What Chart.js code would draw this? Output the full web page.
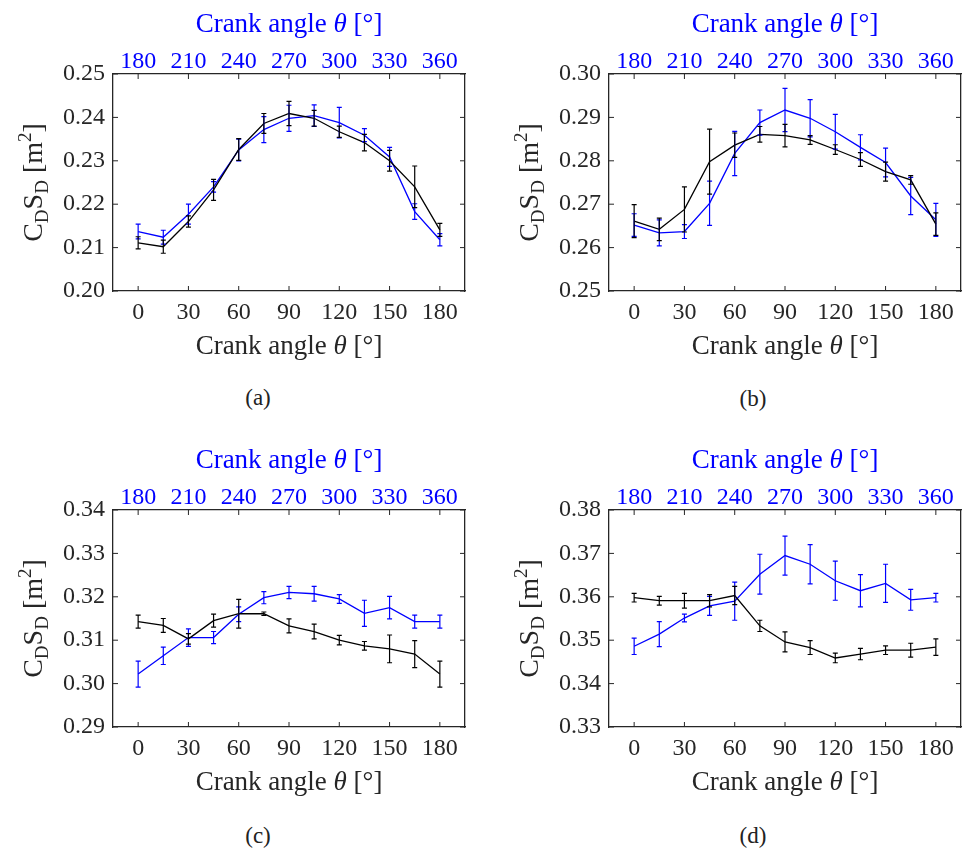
<!DOCTYPE html>
<html>
<head>
<meta charset="utf-8">
<script src="https://cdn.jsdelivr.net/npm/chart.js@4.4.1/dist/chart.umd.min.js"></script>
<style>
body { margin: 0; background: #fff; width: 971px; height: 855px; position: relative; overflow: hidden; }
canvas { position: absolute; }
.cap { position: absolute; font-family: "Liberation Serif", serif; font-size: 23px; color: #222; transform: translate(-50%, -50%); }
</style>
</head>
<body>
<canvas id="ca" width="485" height="370" style="left:0;top:0"></canvas>
<canvas id="cb" width="475" height="370" style="left:496px;top:0"></canvas>
<canvas id="cc" width="485" height="370" style="left:0;top:436px"></canvas>
<canvas id="cd" width="475" height="370" style="left:496px;top:436px"></canvas>
<div class="cap" style="left:258px;top:398px">(a)</div>
<div class="cap" style="left:753px;top:399px">(b)</div>
<div class="cap" style="left:258px;top:836px">(c)</div>
<div class="cap" style="left:753px;top:836px">(d)</div>
<script>
// crank angles and tick labels
const angles = [0, 15, 30, 45, 60, 75, 90, 105, 120, 135, 150, 165, 180];
const xTicks = [0, 30, 60, 90, 120, 150, 180];
const topTicks = [180, 210, 240, 270, 300, 330, 360];

// (a)
const aYTicks = [0.20, 0.21, 0.22, 0.23, 0.24, 0.25];
const aBlack = [0.2111, 0.2102, 0.2160, 0.2233, 0.2326, 0.2386, 0.2409, 0.2398, 0.2367, 0.2342, 0.2300, 0.2240, 0.2141];
const aBlackErr = [0.0014, 0.0015, 0.0013, 0.0024, 0.0025, 0.0023, 0.0028, 0.0018, 0.0013, 0.0019, 0.0024, 0.0048, 0.0015];
const aBlue = [0.2137, 0.2124, 0.2177, 0.2240, 0.2325, 0.2372, 0.2398, 0.2404, 0.2388, 0.2359, 0.2309, 0.2183, 0.2118];
const aBlueErr = [0.0017, 0.0016, 0.0023, 0.0012, 0.0025, 0.0030, 0.0030, 0.0025, 0.0035, 0.0015, 0.0022, 0.0018, 0.0014];

// (b)
const bYTicks = [0.25, 0.26, 0.27, 0.28, 0.29, 0.30];
const bBlack = [0.2661, 0.2642, 0.2688, 0.2798, 0.2836, 0.2861, 0.2858, 0.2848, 0.2826, 0.2803, 0.2775, 0.2756, 0.2654];
const bBlackErr = [0.0038, 0.0026, 0.0052, 0.0075, 0.0028, 0.0018, 0.0026, 0.0010, 0.0011, 0.0016, 0.0022, 0.0010, 0.0026];
const bBlue = [0.2652, 0.2634, 0.2637, 0.2702, 0.2817, 0.2888, 0.2917, 0.2898, 0.2867, 0.2831, 0.2796, 0.2719, 0.2664];
const bBlueErr = [0.0026, 0.0030, 0.0016, 0.0051, 0.0051, 0.0029, 0.0050, 0.0043, 0.0040, 0.0029, 0.0033, 0.0043, 0.0038];

// (c)
const cYTicks = [0.29, 0.30, 0.31, 0.32, 0.33, 0.34];
const cBlack = [0.3143, 0.3134, 0.3103, 0.3145, 0.3161, 0.3161, 0.3133, 0.3120, 0.3100, 0.3087, 0.3080, 0.3068, 0.3022];
const cBlackErr = [0.0015, 0.0016, 0.0012, 0.0015, 0.0033, 0.0004, 0.0016, 0.0017, 0.0011, 0.0010, 0.0032, 0.0031, 0.0030];
const cBlue = [0.3022, 0.3064, 0.3106, 0.3106, 0.3160, 0.3198, 0.3210, 0.3207, 0.3195, 0.3162, 0.3175, 0.3143, 0.3143];
const cBlueErr = [0.0030, 0.0020, 0.0020, 0.0014, 0.0017, 0.0014, 0.0014, 0.0017, 0.0010, 0.0030, 0.0026, 0.0015, 0.0015];

// (d)
const dYTicks = [0.33, 0.34, 0.35, 0.36, 0.37, 0.38];
const dBlack = [0.3598, 0.3591, 0.3591, 0.3591, 0.3603, 0.3533, 0.3496, 0.3483, 0.3459, 0.3468, 0.3477, 0.3477, 0.3484];
const dBlackErr = [0.0010, 0.0010, 0.0017, 0.0014, 0.0021, 0.0013, 0.0023, 0.0016, 0.0011, 0.0013, 0.0010, 0.0016, 0.0019];
const dBlue = [0.3486, 0.3514, 0.3551, 0.3579, 0.3590, 0.3652, 0.3695, 0.3675, 0.3637, 0.3614, 0.3631, 0.3593, 0.3598];
const dBlueErr = [0.0019, 0.0029, 0.0009, 0.0022, 0.0044, 0.0046, 0.0045, 0.0045, 0.0045, 0.0037, 0.0044, 0.0024, 0.0010];

const AXIS = '#262626';
const BLUE = '#0000ff';
const FONT = '"Liberation Serif", "Times New Roman", serif';

// error bars, drawn through the y scale
const errorBars = {
    id: 'errorBars',
    afterDatasetsDraw(chart) {
        const ctx = chart.ctx;
        const y = chart.scales.y;
        for (let i = chart.data.datasets.length - 1; i >= 0; i--) {
            const ds = chart.data.datasets[i];
            const meta = chart.getDatasetMeta(i);
            ctx.save();
            ctx.strokeStyle = ds.borderColor;
            ctx.lineWidth = 1.2;
            ctx.beginPath();
            meta.data.forEach((pt, j) => {
                const v = ds.data[j].y, e = ds.errors[j];
                const top = y.getPixelForValue(v + e), bot = y.getPixelForValue(v - e);
                ctx.moveTo(pt.x, top); ctx.lineTo(pt.x, bot);
                ctx.moveTo(pt.x - 2.5, top); ctx.lineTo(pt.x + 2.5, top);
                ctx.moveTo(pt.x - 2.5, bot); ctx.lineTo(pt.x + 2.5, bot);
            });
            ctx.stroke();
            ctx.restore();
        }
    }
};

// MATLAB-style inward ticks on all four sides
const innerTicks = {
    id: 'innerTicks',
    afterDraw(chart) {
        const {ctx, chartArea: a, scales} = chart;
        const len = 5;
        ctx.save();
        ctx.strokeStyle = AXIS;
        ctx.lineWidth = 1;
        ctx.beginPath();
        scales.x.ticks.forEach(t => {
            const px = scales.x.getPixelForValue(t.value);
            ctx.moveTo(px, a.bottom); ctx.lineTo(px, a.bottom - len);
        });
        scales.x2.ticks.forEach(t => {
            const px = scales.x2.getPixelForValue(t.value);
            ctx.moveTo(px, a.top); ctx.lineTo(px, a.top + len);
        });
        scales.y.ticks.forEach(t => {
            const py = scales.y.getPixelForValue(t.value);
            ctx.moveTo(a.left, py); ctx.lineTo(a.left + len, py);
            ctx.moveTo(a.right, py); ctx.lineTo(a.right - len, py);
        });
        ctx.stroke();
        ctx.restore();
    }
};

// draw a run of text pieces [text, size, dy, italic] centred on 0
function drawPieces(ctx, parts) {
    let total = 0;
    const fontOf = p => (p[3] ? 'italic ' : '') + p[1] + 'px ' + FONT;
    parts.forEach(p => { ctx.font = fontOf(p); total += ctx.measureText(p[0]).width; });
    let x = -total / 2;
    parts.forEach(p => {
        ctx.font = fontOf(p);
        ctx.fillText(p[0], x, p[2]);
        x += ctx.measureText(p[0]).width;
    });
}

// axis titles: x titles with italic theta, y title C_D S_D [m^2]
const axisTitles = {
    id: 'axisTitles',
    afterDraw(chart) {
        const {ctx, chartArea: a} = chart;
        const cx = (a.left + a.right) / 2;
        const xTitle = [['Crank angle ', 27, 0], ['θ', 27, 0, true], [' [°]', 27, 0]];
        ctx.save();
        ctx.textBaseline = 'alphabetic';
        ctx.fillStyle = AXIS;
        ctx.translate(cx, a.bottom + 63);
        drawPieces(ctx, xTitle);
        ctx.restore();

        ctx.save();
        ctx.textBaseline = 'alphabetic';
        ctx.fillStyle = BLUE;
        ctx.translate(cx, a.top - 42);
        drawPieces(ctx, xTitle);
        ctx.restore();

        ctx.save();
        ctx.textBaseline = 'alphabetic';
        ctx.fillStyle = AXIS;
        ctx.translate(a.left - 71, (a.top + a.bottom) / 2);
        ctx.rotate(-Math.PI / 2);
        drawPieces(ctx, [['C', 28, 0], ['D', 19, 6], ['S', 28, 0], ['D', 19, 6], [' [m', 28, 0], ['2', 19, -11], [']', 28, 0]]);
        ctx.restore();
    }
};

function toPoints(vals) {
    return angles.map((a, i) => ({x: a, y: vals[i]}));
}

function makePanel(id, yTicks, black, blackErr, blue, blueErr) {
    const canvas = document.getElementById(id);
    const rightW = canvas.width - 465;
    const yMin = yTicks[0], yMax = yTicks[yTicks.length - 1];
    return new Chart(canvas, {
        type: 'line',
        data: {
            datasets: [
                { data: toPoints(black), errors: blackErr, borderColor: '#000', borderWidth: 1.3, pointRadius: 0, tension: 0, fill: false },
                { data: toPoints(blue), errors: blueErr, borderColor: BLUE, borderWidth: 1.3, pointRadius: 0, tension: 0, fill: false }
            ]
        },
        options: {
            responsive: false,
            animation: false,
            devicePixelRatio: 1,
            layout: { padding: 0 },
            plugins: { legend: { display: false }, tooltip: { enabled: false } },
            scales: {
                x: {
                    type: 'linear', position: 'bottom', min: -15, max: 195,
                    afterBuildTicks: s => { s.ticks = xTicks.map(v => ({value: v})); },
                    afterFit: s => { s.height = 79; s.paddingLeft = s.paddingRight = 0; },
                    grid: { drawOnChartArea: false, drawTicks: false },
                    border: { display: true, color: AXIS, width: 1.3 },
                    ticks: { color: AXIS, padding: 10, maxRotation: 0, font: { family: FONT, size: 24, lineHeight: 1 } }
                },
                x2: {
                    type: 'linear', position: 'top', min: 165, max: 375,
                    afterBuildTicks: s => { s.ticks = topTicks.map(v => ({value: v})); },
                    afterFit: s => { s.height = 74; s.paddingLeft = s.paddingRight = 0; },
                    grid: { drawOnChartArea: false, drawTicks: false },
                    border: { display: true, color: AXIS, width: 1.3 },
                    ticks: { color: BLUE, padding: 0, maxRotation: 0, font: { family: FONT, size: 24, lineHeight: 1 } }
                },
                y: {
                    type: 'linear', position: 'left', min: yMin, max: yMax,
                    afterBuildTicks: s => { s.ticks = yTicks.map(v => ({value: v})); },
                    afterFit: s => { s.width = 113; s.paddingTop = s.paddingBottom = 0; },
                    grid: { drawOnChartArea: false, drawTicks: false },
                    border: { display: true, color: AXIS, width: 1.3 },
                    ticks: { color: AXIS, padding: 8, callback: v => v.toFixed(2), font: { family: FONT, size: 24, lineHeight: 1 } }
                },
                y2: {
                    type: 'linear', position: 'right', min: yMin, max: yMax, display: true,
                    afterFit: s => { s.width = rightW; s.paddingTop = s.paddingBottom = 0; },
                    grid: { drawOnChartArea: false, drawTicks: false },
                    border: { display: true, color: AXIS, width: 1.3 },
                    ticks: { display: false }
                }
            }
        },
        plugins: [errorBars, innerTicks, axisTitles]
    });
}

makePanel('ca', aYTicks, aBlack, aBlackErr, aBlue, aBlueErr);
makePanel('cb', bYTicks, bBlack, bBlackErr, bBlue, bBlueErr);
makePanel('cc', cYTicks, cBlack, cBlackErr, cBlue, cBlueErr);
makePanel('cd', dYTicks, dBlack, dBlackErr, dBlue, dBlueErr);
</script>
</body>
</html>
